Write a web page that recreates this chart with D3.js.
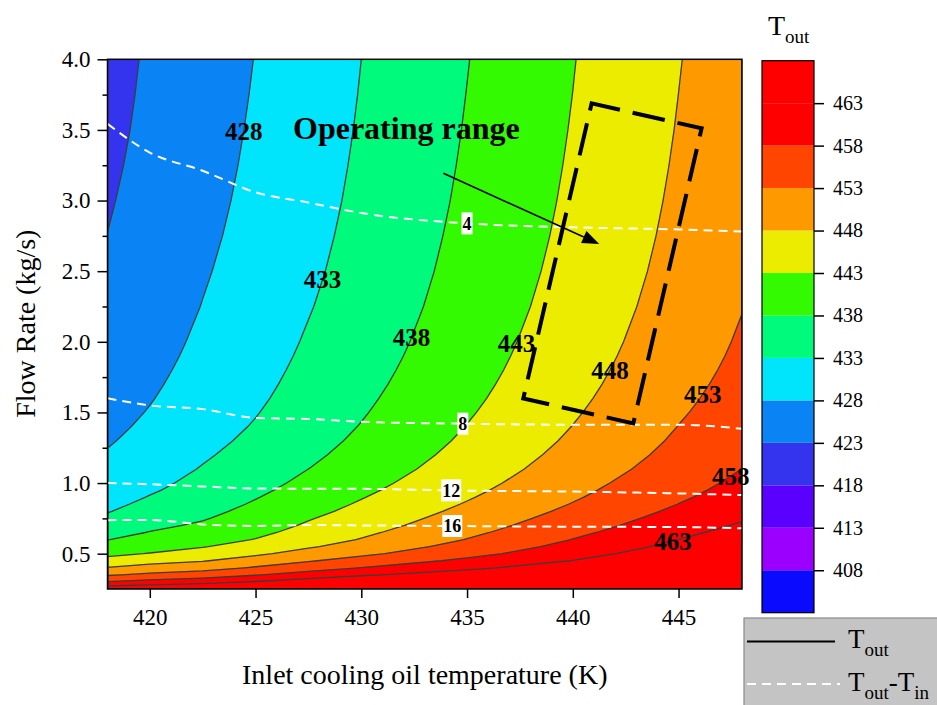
<!DOCTYPE html>
<html>
<head>
<meta charset="utf-8">
<script src="https://cdn.jsdelivr.net/npm/d3@7"></script>
<style>
  html, body { margin: 0; padding: 0; background: #fff; }
  svg { display: block; }
  text { font-family: "Liberation Serif", "Times New Roman", serif; fill: #000; }
</style>
</head>
<body>
<svg id="chart" width="937" height="705"></svg>
<script>
// ---- grid: inlet cooling-oil temperature (K) x flow rate (kg/s) ----
const tinValues = [418, 420, 422.5, 425, 427.5, 430, 435, 440, 445, 448];
const flowValues = [0.25, 0.3, 0.35, 0.4, 0.45, 0.5, 0.55, 0.6, 0.65, 0.7, 0.75, 0.8, 0.85, 0.9, 0.95, 1.0,
                    1.1, 1.2, 1.3, 1.4, 1.5, 1.6, 1.7, 1.8, 1.9, 2.0,
                    2.25, 2.5, 2.75, 3.0, 3.25, 3.5, 3.75, 4.0];

// temperature rise Tout - Tin (K) along the flow-rate grid, one array per inlet temperature
const dT418 = [48.5, 40.3, 34.5, 30.2, 26.6, 23.9, 21.7, 19.9, 18.3, 16.9, 15.7, 14.8, 13.95, 13.2, 12.55, 12.0,
               11.09, 10.31, 9.63, 9.02, 8.48, 8.0, 7.59, 7.22, 6.89, 6.6,
               5.97, 5.46, 5.04, 4.67, 4.33, 4.04, 3.81, 3.6];
const dT420 = [47.6, 39.7, 34.0, 29.75, 26.4, 23.2, 21.2, 19.6, 18.2, 17.0, 15.7, 14.75, 14.0, 13.2, 12.5, 11.9,
               10.91, 10.08, 9.38, 8.76, 8.23, 7.77, 7.36, 7.0, 6.67, 6.375,
               5.72, 5.2, 4.76, 4.4, 4.09, 3.84, 3.64, 3.475];
const dT4225 = [46.4, 38.67, 32.86, 28.63, 25.22, 22.4, 20.27, 18.67, 17.31, 16.14, 15.16, 14.31, 13.55, 12.89, 12.28, 11.75,
                10.77, 9.96, 9.25, 8.64, 8.11, 7.64, 7.24, 6.87, 6.54, 6.25,
                5.61, 5.1, 4.65, 4.27, 3.95, 3.69, 3.45, 3.25];
const dT425 = [46.0, 38.33, 32.71, 28.5, 25.11, 22.2, 19.91, 18.17, 16.92, 15.93, 15.07, 14.25, 13.47, 12.78, 12.14, 11.55,
               10.53, 9.67, 8.94, 8.32, 7.8, 7.34, 6.95, 6.61, 6.29, 6.0,
               5.36, 4.84, 4.42, 4.07, 3.77, 3.51, 3.29, 3.1];
const dT4275 = [46.0, 38.17, 32.57, 28.38, 25.11, 22.2, 20.0, 18.3, 17.1, 16.05, 15.2, 14.31, 13.5, 12.78, 12.12, 11.52,
                10.49, 9.63, 8.9, 8.29, 7.75, 7.28, 6.87, 6.51, 6.19, 5.9,
                5.26, 4.74, 4.33, 3.98, 3.69, 3.44, 3.23, 3.04];
const dT430 = [45.6, 38.0, 32.3, 28.1, 24.89, 22.0, 19.91, 18.25, 17.08, 16.0, 15.1, 14.25, 13.5, 12.78, 12.11, 11.5,
               10.43, 9.54, 8.81, 8.18, 7.65, 7.19, 6.76, 6.39, 6.05, 5.75,
               5.12, 4.62, 4.22, 3.88, 3.61, 3.37, 3.17, 3.0];
const dT435 = [44.8, 36.67, 30.86, 26.75, 24.0, 21.5, 19.7, 18.15, 16.95, 15.9, 15.0, 14.13, 13.33, 12.61, 11.95, 11.35,
               10.32, 9.46, 8.73, 8.11, 7.56, 7.08, 6.66, 6.28, 5.95, 5.65,
               5.02, 4.52, 4.12, 3.78, 3.5, 3.26, 3.06, 2.875];
const dT440 = [43.2, 35.67, 30.29, 26.25, 23.11, 21.0, 19.45, 18.1, 16.9, 15.8, 14.87, 14.0, 13.2, 12.5, 11.87, 11.3,
               10.27, 9.42, 8.69, 8.07, 7.53, 7.05, 6.62, 6.25, 5.92, 5.62,
               4.99, 4.49, 4.08, 3.75, 3.47, 3.23, 3.02, 2.845];
const dT445 = [42.8, 35.33, 30.0, 26.0, 23.0, 20.9, 19.3, 18.0, 16.85, 15.75, 14.77, 13.88, 13.06, 12.33, 11.71, 11.15,
               10.16, 9.33, 8.65, 8.07, 7.52, 7.03, 6.6, 6.22, 5.88, 5.58,
               4.96, 4.46, 4.06, 3.73, 3.45, 3.21, 3.01, 2.825];
const dT448 = [42.4, 35.0, 29.86, 25.9, 22.9, 20.8, 19.2, 17.9, 16.68, 15.54, 14.53, 13.65, 12.88, 12.19, 11.56, 11.0,
               10.01, 9.18, 8.5, 7.91, 7.38, 6.91, 6.48, 6.11, 5.78, 5.49,
               4.87, 4.4, 4.04, 3.71, 3.42, 3.19, 2.98, 2.8];

// ---- contour levels, colours and labels ----
const bandLevels = [403, 408, 413, 418, 423, 428, 433, 438, 443, 448, 453, 458, 463];
const bandColors = ["#0a0aff", "#9b00ff", "#5a00ff", "#3434ee", "#0a84f4", "#00e4fc", "#00fa7c",
                    "#33fa00", "#ecec00", "#ff9900", "#ff4500", "#ff0000", "#ff0000"];
const lineLevels = [408, 413, 418, 423, 428, 433, 438, 443, 448, 453, 458, 463];
const labelLevels = [428, 433, 438, 443, 448, 453, 458, 463];
const labelFlows = [3.49, 2.44, 2.03, 1.99, 1.80, 1.63, 1.05, 0.59];
const riseLevels = [4, 8, 12, 16];
const riseLabelTin = [435, 434.8, 434.25, 434.3];

// ---- axes ----
const xTicks = [420, 425, 430, 435, 440, 445];
const yTicks = [0.5, 1.0, 1.5, 2.0, 2.5, 3.0, 3.5, 4.0];
const yMinorTicks = [0.75, 1.25, 1.75, 2.25, 2.75, 3.25, 3.75];
const colorbarTicks = [408, 413, 418, 423, 428, 433, 438, 443, 448, 453, 458, 463];

// ---- operating-range annotation (Tin, flow) ----
const rangeBoxTin = [440.89, 446.09, 442.86, 437.66];
const rangeBoxFlow = [3.688, 3.511, 1.422, 1.599];
const arrowTin = [433.88, 441.25];
const arrowFlow = [3.193, 2.692];
const rangeTextTin = 426.77, rangeTextFlow = 3.436;

const svg = d3.select("#chart");
const plot = { left: 107.5, right: 742, top: 59.3, bottom: 589 };
const x = d3.scaleLinear().domain([418, 448]).range([plot.left, plot.right]);
const y = d3.scaleLinear().domain([0.25, 4.0]).range([plot.bottom, plot.top]);

const deltaT = [dT418, dT420, dT4225, dT425, dT4275, dT430, dT435, dT440, dT445, dT448];
const nx = tinValues.length, ny = flowValues.length;

// outlet temperature on the grid (row-major, x fastest)
const tout = new Array(nx * ny);
for (let j = 0; j < ny; j++)
  for (let i = 0; i < nx; i++)
    tout[j * nx + i] = tinValues[i] + deltaT[i][j];

// grid index space -> data space (sample k sits at k + 0.5)
function gridToData(c, arr) {
  const t = c - 0.5;
  if (t <= 0) return arr[0];
  if (t >= arr.length - 1) return arr[arr.length - 1];
  const k = Math.floor(t), f = t - k;
  return arr[k] + f * (arr[k + 1] - arr[k]);
}
const gridProjection = d3.geoTransform({
  point(px, py) {
    this.stream.point(x(gridToData(px, tinValues)), y(gridToData(py, flowValues)));
  }
});
const gridPath = d3.geoPath(gridProjection);

svg.append("defs").append("clipPath").attr("id", "plotClip")
  .append("rect")
  .attr("x", plot.left).attr("y", plot.top)
  .attr("width", plot.right - plot.left).attr("height", plot.bottom - plot.top);

const plotG = svg.append("g").attr("clip-path", "url(#plotClip)");

// filled bands
const bands = d3.contours().size([nx, ny]).thresholds(bandLevels)(tout);
plotG.append("g").selectAll("path").data(bands).join("path")
  .attr("d", gridPath)
  .attr("fill", (d, i) => bandColors[i])
  .attr("stroke", (d, i) => bandColors[i])
  .attr("stroke-width", 0.4);

// Tout iso-lines
const isoLines = d3.contours().size([nx, ny]).thresholds(lineLevels)(tout);
plotG.append("g").selectAll("path").data(isoLines).join("path")
  .attr("d", gridPath)
  .attr("fill", "none")
  .attr("stroke", "#3c3c3c")
  .attr("stroke-width", 1.3);

// helpers on the grid
function interpFlow(col, m) {
  for (let j = 0; j < ny - 1; j++) {
    if (m >= flowValues[j] && m <= flowValues[j + 1]) {
      const f = (m - flowValues[j]) / (flowValues[j + 1] - flowValues[j]);
      return col[j] + f * (col[j + 1] - col[j]);
    }
  }
  return m < flowValues[0] ? col[0] : col[ny - 1];
}
function levelTin(level, m) {
  for (let i = 0; i < nx - 1; i++) {
    const a = tinValues[i] + interpFlow(deltaT[i], m);
    const b = tinValues[i + 1] + interpFlow(deltaT[i + 1], m);
    if ((a - level) * (b - level) <= 0 && a !== b)
      return tinValues[i] + (level - a) / (b - a) * (tinValues[i + 1] - tinValues[i]);
  }
  return null;
}
function riseFlow(col, level) {
  for (let j = 0; j < ny - 1; j++) {
    if ((col[j] - level) * (col[j + 1] - level) <= 0 && col[j] !== col[j + 1])
      return flowValues[j] + (col[j] - level) / (col[j] - col[j + 1]) * (flowValues[j + 1] - flowValues[j]);
  }
  return null;
}

// Tout - Tin dashed iso-lines
const riseLine = d3.line().x(d => x(d[0])).y(d => y(d[1])).curve(d3.curveMonotoneX);
riseLevels.forEach(level => {
  const pts = tinValues.map((t, i) => [t, riseFlow(deltaT[i], level)]).filter(p => p[1] !== null);
  plotG.append("path")
    .attr("d", riseLine(pts))
    .attr("fill", "none")
    .attr("stroke", "#ffffff")
    .attr("stroke-width", 2)
    .attr("stroke-dasharray", "9,6");
});

const labelG = svg.append("g");

// labels on the Tout lines
labelLevels.forEach((level, k) => {
  const t = levelTin(level, labelFlows[k]);
  if (t === null) return;
  labelG.append("text")
    .attr("x", x(t)).attr("y", y(labelFlows[k]))
    .attr("dy", "0.35em")
    .attr("text-anchor", "middle")
    .attr("font-weight", "bold")
    .attr("font-size", 25)
    .text(level);
});

// labels on the dashed lines (white boxes)
riseLevels.forEach((level, k) => {
  const t = riseLabelTin[k];
  let i = d3.bisectRight(tinValues, t) - 1;
  i = Math.max(0, Math.min(nx - 2, i));
  const m0 = riseFlow(deltaT[i], level), m1 = riseFlow(deltaT[i + 1], level);
  const f = (t - tinValues[i]) / (tinValues[i + 1] - tinValues[i]);
  const m = m0 + f * (m1 - m0);
  const g = labelG.append("g").attr("transform", `translate(${x(t)},${y(m)})`);
  const rect = g.append("rect").attr("fill", "#ffffff");
  const txt = g.append("text")
    .attr("text-anchor", "middle").attr("dy", "0.35em")
    .attr("font-weight", "bold").attr("font-size", 18)
    .text(level);
  const w = txt.node().getComputedTextLength() + 2;
  rect.attr("x", -w / 2).attr("y", -11).attr("width", w).attr("height", 22);
});

// operating range annotation
const boxPts = rangeBoxTin.map((t, i) => [x(t), y(rangeBoxFlow[i])]);
labelG.append("path")
  .attr("d", "M" + boxPts.map(p => p.join(",")).join("L") + "Z")
  .attr("fill", "none")
  .attr("stroke", "#000")
  .attr("stroke-width", 4)
  .attr("stroke-dasharray", "33,13")
  .attr("stroke-dashoffset", 4);

const a0 = [x(arrowTin[0]), y(arrowFlow[0])], a1 = [x(arrowTin[1]), y(arrowFlow[1])];
const ang = Math.atan2(a1[1] - a0[1], a1[0] - a0[0]);
const headLen = 17, headHalf = 6.5;
const base = [a1[0] - headLen * Math.cos(ang), a1[1] - headLen * Math.sin(ang)];
labelG.append("line")
  .attr("x1", a0[0]).attr("y1", a0[1]).attr("x2", base[0]).attr("y2", base[1])
  .attr("stroke", "#000").attr("stroke-width", 1.6);
labelG.append("path")
  .attr("d", `M${a1[0]},${a1[1]}L${base[0] - headHalf * Math.sin(ang)},${base[1] + headHalf * Math.cos(ang)}L${base[0] + headHalf * Math.sin(ang)},${base[1] - headHalf * Math.cos(ang)}Z`)
  .attr("fill", "#000");

labelG.append("text")
  .attr("x", x(rangeTextTin)).attr("y", y(rangeTextFlow))
  .attr("font-weight", "bold").attr("font-size", 32)
  .text("Operating range");

// frame
svg.append("rect")
  .attr("x", plot.left).attr("y", plot.top)
  .attr("width", plot.right - plot.left).attr("height", plot.bottom - plot.top)
  .attr("fill", "none").attr("stroke", "#000").attr("stroke-width", 1.5);

// axes
function styleAxis(g, size) {
  g.select(".domain").remove();
  g.selectAll(".tick line").attr("stroke", "#000").attr("stroke-width", 1.5);
  g.selectAll("text").attr("font-family", "'Liberation Serif', 'Times New Roman', serif")
    .attr("font-size", size).attr("fill", "#000");
}
svg.append("g").attr("transform", `translate(0,${plot.bottom})`)
  .call(d3.axisBottom(x).tickValues(xTicks).tickFormat(d3.format("d")).tickSize(9).tickPadding(11).tickSizeOuter(0))
  .call(g => styleAxis(g, 23));
svg.append("g").attr("transform", `translate(${plot.left},0)`)
  .call(d3.axisLeft(y).tickValues(yTicks).tickFormat(d3.format(".1f")).tickSize(10).tickPadding(7).tickSizeOuter(0))
  .call(g => styleAxis(g, 23));
svg.append("g").attr("transform", `translate(${plot.left},0)`)
  .call(d3.axisLeft(y).tickValues(yMinorTicks).tickFormat("").tickSize(5).tickSizeOuter(0))
  .call(g => styleAxis(g, 23));

svg.append("text")
  .attr("x", (plot.left + plot.right) / 2).attr("y", 684)
  .attr("text-anchor", "middle").attr("font-size", 28)
  .text("Inlet cooling oil temperature (K)");
svg.append("text")
  .attr("transform", `translate(35,${(plot.top + plot.bottom) / 2 - 0.5}) rotate(-90)`)
  .attr("text-anchor", "middle").attr("font-size", 28)
  .text("Flow Rate (kg/s)");

// colour bar
const cb = { left: 762, right: 814, top: 60.7, bottom: 612.7 };
const cbY = d3.scaleLinear().domain([403, 468]).range([cb.bottom, cb.top]);
const cbG = svg.append("g");
cbG.selectAll("rect.band").data(bandLevels).join("rect")
  .attr("x", cb.left).attr("width", cb.right - cb.left)
  .attr("y", d => cbY(d + 5)).attr("height", d => cbY(d) - cbY(d + 5))
  .attr("fill", (d, i) => bandColors[i]);
cbG.append("rect")
  .attr("x", cb.left).attr("y", cb.top)
  .attr("width", cb.right - cb.left).attr("height", cb.bottom - cb.top)
  .attr("fill", "none").attr("stroke", "#000").attr("stroke-width", 1.2);
cbG.append("g").attr("transform", `translate(${cb.right},0)`)
  .call(d3.axisRight(cbY).tickValues(colorbarTicks).tickFormat(d3.format("d")).tickSize(10).tickPadding(9).tickSizeOuter(0))
  .call(g => styleAxis(g, 20));

const cbTitle = svg.append("text").attr("x", 768).attr("y", 35);
cbTitle.append("tspan").attr("font-size", 28).text("T");
cbTitle.append("tspan").attr("font-size", 19).attr("dy", 8).text("out");

// legend
const lg = svg.append("g");
lg.append("rect").attr("x", 744).attr("y", 618).attr("width", 210).attr("height", 100)
  .attr("fill", "#c4c4c4").attr("stroke", "#8a8a8a").attr("stroke-width", 1.2);
lg.append("line").attr("x1", 747).attr("x2", 835).attr("y1", 641.5).attr("y2", 641.5)
  .attr("stroke", "#000").attr("stroke-width", 2);
lg.append("line").attr("x1", 747).attr("x2", 840).attr("y1", 684).attr("y2", 684)
  .attr("stroke", "#fff").attr("stroke-width", 2).attr("stroke-dasharray", "9,6");
const l1 = lg.append("text").attr("x", 848).attr("y", 648);
l1.append("tspan").attr("font-size", 27).text("T");
l1.append("tspan").attr("font-size", 19).attr("dy", 8).text("out");
const l2 = lg.append("text").attr("x", 848).attr("y", 691);
l2.append("tspan").attr("font-size", 27).text("T");
l2.append("tspan").attr("font-size", 19).attr("dy", 8).text("out");
l2.append("tspan").attr("font-size", 27).attr("dy", -8).text("-T");
l2.append("tspan").attr("font-size", 19).attr("dy", 8).text("in");
</script>
</body>
</html>
